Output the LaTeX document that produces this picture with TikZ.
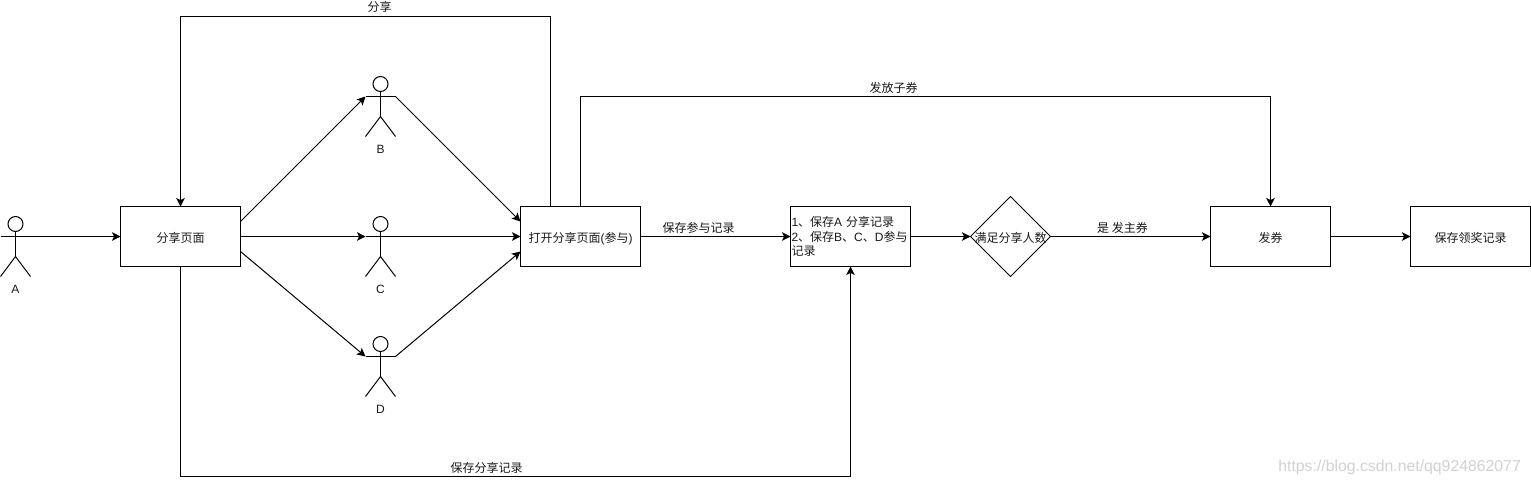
\documentclass[tikz,border=0pt]{standalone}
\usepackage{fontspec}
\setmainfont{Liberation Sans}
\newfontfamily\cjk{Noto Sans CJK SC}
\newcommand{\zh}[1]{{\cjk #1}}
\usetikzlibrary{arrows.meta,shapes.geometric}
\tikzset{
  base/.style={line width=1pt,draw=black},
  boxnode/.style={base,rectangle,minimum width=120pt,minimum height=60pt,inner sep=0pt,outer sep=0pt,font=\fontsize{12pt}{14.4pt}\selectfont,text=black!90},
  lowertext/.style={text height=11pt,text depth=0pt},
  decision/.style={base,diamond,aspect=1,minimum width=80pt,minimum height=80pt,inner sep=0pt,outer sep=0pt,font=\fontsize{12pt}{14.4pt}\selectfont,text=black!90},
  txtlabel/.style={inner sep=0pt,font=\fontsize{12pt}{14.4pt}\selectfont,text=black!90},
  flow/.style={base,-{Stealth[length=8.5pt,width=8.5pt,inset=2pt]}},
  shoulder/.style={rectangle,minimum width=30pt,minimum height=0pt,inner sep=0pt,outer sep=0pt},
}
\newcommand{\actor}[3]{% name, x, shoulder y
  \node[shoulder] (#1) at (#2,#3) {};
  \draw[base] (#2,#3-12.5) circle (7.5pt);
  \draw[base] (#1.west) -- (#1.east);
  \draw[base] (#2,#3-5) -- (#2,#3+20);
  \draw[base] (#2-15,#3+40) -- (#2,#3+20) -- (#2+15,#3+40);
  \node[txtlabel] (#1label) at (#2,#3+53) {#1};
}
\begin{document}
\begin{tikzpicture}[x=1pt,y=-1pt]
\useasboundingbox (0,0) rectangle (1531,485);
\actor{A}{15.5}{236.5}
\actor{B}{380.5}{96.5}
\actor{C}{380.5}{236.5}
\actor{D}{380.5}{356.5}
\node[boxnode,lowertext] (share) at (180.5,236.5) {\zh{分享页面}};
\node[boxnode,lowertext] (open) at (580.5,236.5) {\zh{打开分享页面}(\zh{参与})};
\node[boxnode,align=left,text width=118pt] (save) at (850.5,236.5) {1\zh{、保存}A \zh{分享记录}\\2\zh{、保存}B\zh{、}C\zh{、}D\zh{参与}\\\zh{记录}};
\node[decision,lowertext] (cond) at (1010.5,236.5) {\makebox[0pt]{\zh{满足分享人数}}};
\node[boxnode,lowertext] (issue) at (1270.5,236.5) {\zh{发券}};
\node[boxnode,lowertext] (prize) at (1470.5,236.5) {\zh{保存领奖记录}};
\coordinate (topa) at (550.5,16.5);
\coordinate (topb) at (180.5,16.5);
\coordinate (rta) at (580.5,96.5);
\coordinate (rtb) at (1270.5,96.5);
\coordinate (bota) at (180.5,476.5);
\coordinate (botb) at (850.5,476.5);
\draw[flow] (A.east) -- (share.west);
\draw[flow] ([yshift=15pt]share.east) -- (B.west);
\draw[flow] (share.east) -- (C.west);
\draw[flow] ([yshift=-15pt]share.east) -- (D.west);
\draw[flow] (B.east) -- ([yshift=15pt]open.west);
\draw[flow] (C.east) -- (open.west);
\draw[flow] (D.east) -- ([yshift=-15pt]open.west);
\draw[flow] ([xshift=-30pt]open.north) -- (topa) -- (topb) -- (share.north);
\draw[flow] (open.north) -- (rta) -- (rtb) -- (issue.north);
\draw[flow] (share.south) -- (bota) -- (botb) -- (save.south);
\draw[flow] (open.east) -- (save.west);
\draw[flow] (save.east) -- (cond.west);
\draw[flow] (cond.east) -- (issue.west);
\draw[flow] (issue.east) -- (prize.west);
\node[txtlabel] (l1) at (379.5,6.5) {\zh{分享}};
\node[txtlabel] (l2) at (893.5,87.5) {\zh{发放子券}};
\node[txtlabel] (l3) at (698.5,227.5) {\zh{保存参与记录}};
\node[txtlabel] (l4) at (1122.5,227.5) {\zh{是 发主券}};
\node[txtlabel] (l5) at (486.5,467.5) {\zh{保存分享记录}};
\node[inner sep=0pt,anchor=east,text=black!18,font=\fontsize{15.8pt}{18pt}\selectfont] (wm) at (1521,467) {https://blog.csdn.net/qq924862077};
\end{tikzpicture}
\end{document}
